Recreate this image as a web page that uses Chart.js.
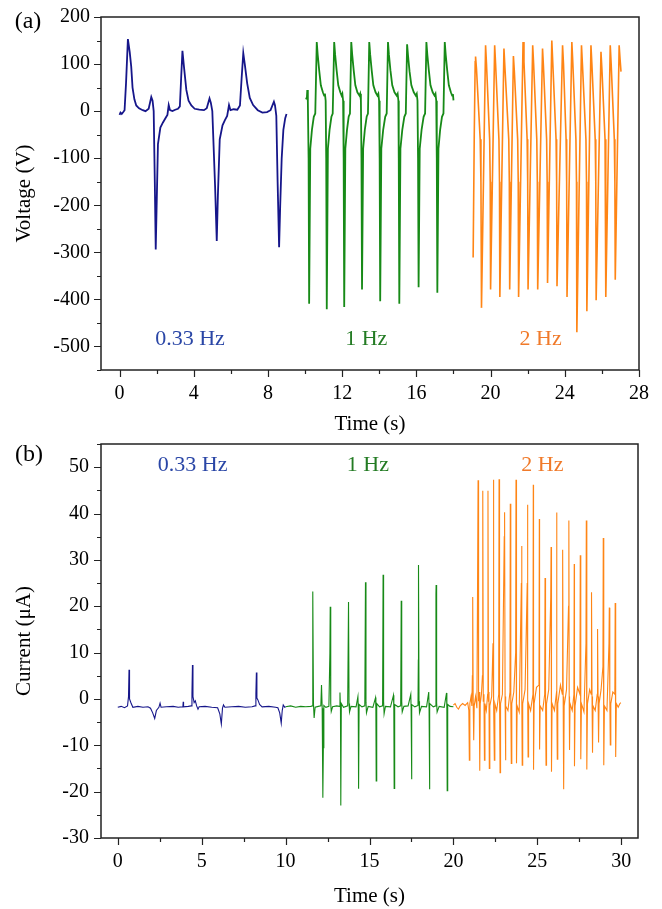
<!DOCTYPE html>
<html>
<head>
<meta charset="utf-8">
<script src="https://cdn.jsdelivr.net/npm/chart.js@4.4.1/dist/chart.umd.min.js"></script>
<style>
    html, body { margin: 0; padding: 0; background: #fff; }
    #wrap { position: relative; width: 662px; height: 909px; overflow: hidden; }
    canvas { position: absolute; left: 0; }
    #chartA { top: 0; }
    #chartB { top: 440px; }
</style>
</head>
<body>
<div id="wrap">
    <canvas id="chartA" width="662" height="440"></canvas>
    <canvas id="chartB" width="662" height="469"></canvas>
</div>
<script>
// ---- (a) voltage ----
const voltBlueT = [0.00,0.05,0.12,0.20,0.27,0.35,0.45,0.55,0.63,0.70,0.80,0.90,1.05,1.25,1.40,1.57,1.71,1.78,1.84,1.90,1.95,2.00,2.07,2.20,2.34,2.52,2.58,2.65,2.72,2.85,3.00,3.15,3.25,3.32,3.39,3.47,3.60,3.72,3.87,4.05,4.30,4.55,4.70,4.85,4.92,5.00,5.15,5.24,5.30,5.40,5.55,5.68,5.80,5.90,5.98,6.15,6.35,6.49,6.58,6.67,6.75,6.88,7.02,7.20,7.45,7.70,7.95,8.14,8.32,8.38,8.45,8.52,8.60,8.66,8.74,8.83,8.93,9.00];
const voltBlueV = [-8,-3,-6,-2,2,60,153,125,94,50,25,12,6,2,0,5,30,22,0,-150,-294,-200,-70,-35,-24,-12,-8,13,2,0,3,5,10,70,128,95,45,22,12,5,3,2,6,27,18,0,-160,-276,-180,-60,-30,-19,-10,13,2,4,3,12,70,123,100,59,28,13,2,-3,-2,2,20,12,-10,-150,-289,-200,-100,-40,-15,-6];

const voltGreenT = [10.05,10.10,10.12,10.15,10.19,10.22,10.28,10.37,10.47,10.55,
    10.63,10.68,10.76,10.85,10.96,11.03,11.07,11.11,11.14,11.17,11.23,11.32,11.42,11.49,
    11.57,11.62,11.70,11.79,11.90,11.97,12.01,12.05,12.08,12.11,12.17,12.26,12.35,12.42,
    12.49,12.54,12.62,12.71,12.82,12.93,12.97,13.01,13.04,13.07,13.13,13.22,13.32,13.39,
    13.46,13.51,13.59,13.68,13.80,13.90,13.95,13.99,14.02,14.05,14.11,14.21,14.32,14.40,
    14.47,14.52,14.60,14.70,14.82,14.94,14.99,15.03,15.05,15.08,15.14,15.24,15.35,15.43,
    15.50,15.55,15.63,15.73,15.86,15.97,16.02,16.06,16.09,16.12,16.18,16.28,16.39,16.47,
    16.54,16.59,16.67,16.76,16.88,16.98,17.03,17.07,17.10,17.13,17.19,17.28,17.38,17.46,
    17.53,17.58,17.66,17.75,17.86,17.93,17.97,18.00];
const voltGreenV = [25,30,45,20,-100,-409,-80,-40,-12,-5,
    147,120,87,55,40,33,37,22,-100,-421,-80,-40,-12,-5,
    147,120,87,55,40,33,37,22,-100,-416,-80,-40,-12,-5,
    147,120,87,55,40,33,37,22,-100,-379,-80,-40,-12,-5,
    147,120,87,55,40,33,37,22,-100,-404,-80,-40,-12,-5,
    147,120,87,55,40,33,37,22,-100,-409,-80,-40,-12,-5,
    142,118,85,55,40,33,37,22,-100,-374,-80,-40,-12,-5,
    147,120,87,55,40,33,37,22,-100,-386,-80,-40,-12,-5,
    147,120,87,55,40,33,36,23];

const voltOrangeT = [19.06,19.12,19.17,19.19,19.24,19.44,19.48,19.51,
    19.73,19.78,19.95,19.98,20.00, 20.22,20.27,20.45,20.48,20.50, 20.72,20.77,20.98,21.01,21.03,
    21.23,21.28,21.46,21.49,21.51, 21.75,21.80,21.97,22.00,22.02, 22.27,22.32,22.49,22.52,22.54,
    22.80,22.85,23.02,23.05,23.07, 23.30,23.35,23.53,23.56,23.58, 23.88,23.93,24.07,24.10,24.12,
    24.38,24.43,24.60,24.63,24.65, 24.90,24.95,25.14,25.17,25.19, 25.41,25.46,25.64,25.67,25.69,
    25.95,26.00,26.17,26.20,26.22, 26.45,26.50,26.67,26.70,26.72, 26.93,26.98,27.03];
const voltOrangeV = [-311,-50,105,116,90,-60,-150,-418,
    140,100,-60,-150,-379, 140,100,-60,-150,-395, 133,95,-60,-150,-379,
    117,85,-60,-150,-395, 147,105,-60,-150,-379, 140,100,-60,-150,-379,
    133,95,-60,-150,-365, 150,105,-60,-150,-372, 140,100,-60,-150,-395,
    147,105,-60,-150,-470, 140,100,-60,-150,-425, 140,100,-60,-150,-402,
    126,90,-60,-150,-395, 140,100,-60,-150,-358, 140,110,84];

const timeTicksA = [0, 4, 8, 12, 16, 20, 24, 28];
const voltTicks = [-500, -400, -300, -200, -100, 0, 100, 200];
const noteTextA = ['0.33 Hz', '1 Hz', '2 Hz'];
const noteTimeA = [3.8, 13.3, 22.7];
const noteVoltA = [-485, -485, -485];

// ---- (b) current ----
const curBlueT = [0.00,0.20,0.40,0.58,0.64,0.67,0.70,0.75,0.80,0.90,1.20,1.50,1.80,1.95,2.08,2.20,2.30,2.45,2.52,2.58,2.90,3.30,3.60,3.88,3.90,3.92,4.20,4.38,4.42,4.45,4.48,4.55,4.62,4.70,4.78,4.85,5.20,5.60,5.95,6.08,6.17,6.24,6.30,6.38,6.80,7.20,7.60,8.00,8.18,8.23,8.26,8.29,8.35,8.45,8.60,9.00,9.40,9.54,9.65,9.74,9.80,9.86,9.95,10.00];
const curBlueV = [-1.8,-1.6,-1.9,-1.5,0.5,6.3,0.0,-0.5,-1.0,-1.8,-1.6,-1.8,-1.7,-2.0,-3.0,-4.2,-2.5,-1.8,-0.9,-1.8,-1.7,-1.6,-1.8,-1.7,-0.6,-1.7,-1.6,-1.5,1.0,7.3,0.5,-0.8,-0.4,-1.5,-2.2,-1.7,-1.6,-1.8,-1.9,-3.2,-5.4,-2.0,-1.3,-1.8,-1.7,-1.6,-1.8,-1.7,-1.5,1.0,5.7,0.2,-0.2,-1.2,-1.7,-1.6,-1.8,-1.9,-3.0,-5.2,-2.5,-1.3,-1.8,-1.7];

const curGreenT = [10.00,10.30,10.60,10.90,11.20,11.50,11.60,11.61,11.63,11.66,11.70,11.76,11.95,
    12.10,12.14,12.18,12.22,12.25,12.28,12.40,12.58,12.64,12.66,12.69,12.72,12.80,13.05,
    13.20,13.24,13.27,13.29,13.32,13.45,13.70,13.75,13.78,13.81,13.90,14.20,
    14.31,14.33,14.35,14.38,14.55,14.72,14.76,14.79,14.82,14.92,15.20,
    15.36,15.38,15.40,15.43,15.60,15.78,15.81,15.84,15.87,15.95,16.25,
    16.43,16.45,16.47,16.50,16.70,16.86,16.89,16.92,16.95,17.05,17.30,
    17.46,17.48,17.50,17.53,17.70,17.89,17.91,17.92,17.95,17.98,18.10,18.40,
    18.53,18.55,18.57,18.60,18.80,18.94,18.96,18.97,19.00,19.03,19.15,19.45,
    19.59,19.61,19.63,19.66,19.80,20.00];
const curGreenV = [-1.7,-1.5,-1.8,-1.6,-1.7,-1.6,-1.5,14.5,23.2,-1.0,-4.1,-1.8,-1.6,
    -1.5,3.0,-2.0,-21.3,-10.5,-1.4,-1.8,-1.6,9.9,19.9,-1.0,-2.7,-1.7,-1.5,
    -1.6,1.4,-2.0,-23.0,-1.0,-1.8,-1.5,20.9,-1.0,-2.8,-1.6,-1.7,
    0.5,-2.0,-19.4,-1.2,-1.7,-1.5,25.2,-0.8,-3.0,-1.6,-1.8,
    0.3,-2.0,-17.7,-1.0,-1.7,-1.5,26.8,-0.5,-3.2,-1.6,-1.7,
    0.8,-2.0,-19.3,-1.2,-1.7,-1.5,21.2,-0.5,-2.8,-1.6,-1.5,
    1.0,-2.0,-17.3,-1.2,-1.7,-1.4,8.4,28.9,-0.5,-3.0,-1.6,-1.7,
    1.5,-2.0,-19.5,-1.0,-1.7,-1.5,22.7,24.6,-0.8,-2.8,-1.6,-1.8,
    1.3,-2.0,-19.8,-1.2,-1.6,-1.7];

const curOrangeT = [20.00,20.10,20.20,20.30,20.40,20.55,20.70,20.85,20.92,20.95,20.98,21.05,21.10,21.13,21.15,21.18,21.21,21.24,21.32,
    21.40,21.45,21.47,21.50,21.54,21.57,21.60,21.67,21.73,21.75,21.78,21.82,21.85,21.88,21.96,
    22.04,22.06,22.09,22.12,22.14,22.17,22.28,22.36,22.38,22.41,22.44,22.47,22.58,
    22.70,22.72,22.75,22.78,22.81,22.92,23.03,23.05,23.08,23.10,23.13,23.25,
    23.37,23.39,23.42,23.45,23.48,23.60,23.71,23.73,23.75,23.77,23.80,23.92,
    24.05,24.07,24.08,24.10,24.13,24.27,24.40,24.42,24.43,24.45,24.48,24.60,
    24.74,24.76,24.77,24.78,24.81,24.95,25.10,25.12,25.13,25.14,25.17,25.32,
    25.44,25.46,25.49,25.52,25.55,25.68,25.80,25.82,25.84,25.85,25.88,26.02,
    26.13,26.15,26.17,26.19,26.22,26.38,26.49,26.51,26.54,26.57,26.60,26.74,
    26.86,26.88,26.90,26.92,26.95,27.08,27.18,27.20,27.21,27.22,27.25,27.40,
    27.54,27.56,27.58,27.60,27.63,27.78,27.90,27.92,27.94,27.96,27.99,28.12,
    28.21,28.23,28.26,28.29,28.32,28.45,28.57,28.59,28.62,28.65,28.68,28.80,
    28.91,28.93,28.95,28.97,29.00,29.15,29.27,29.29,29.32,29.35,29.38,29.50,
    29.62,29.64,29.66,29.68,29.71,29.82,29.92,29.98];
const curOrangeV = [-1.3,-1.0,-1.8,-2.2,-1.5,-1.0,-1.4,-0.8,-2.5,-13.2,-1.0,0.5,-1.5,5.0,22.0,-1.0,-8.9,-1.5,0.5,
    -2.0,32.0,47.2,-0.5,1.5,-15.5,-1.0,1.0,5.0,44.9,-0.5,1.0,-13.2,-1.0,-2.5,
    1.0,44.9,-0.5,1.5,-15.0,-1.5,0.5,12.0,47.3,-0.5,-13.2,-1.0,-2.5,
    1.0,47.4,0.0,-15.9,-1.0,1.0,35.0,40.3,0.5,-13.2,-1.5,-2.5,
    1.5,42.1,-0.5,-13.9,-1.0,1.5,10.0,47.3,0.5,-13.9,-1.5,-2.8,
    25.0,33.0,0.5,-14.3,-1.0,2.0,25.0,41.9,0.5,-12.5,-1.0,-2.5,
    1.0,46.2,0.5,-15.3,-1.0,2.5,3.0,38.8,1.0,-10.9,-1.5,-2.5,
    1.0,26.1,0.5,-14.3,-1.0,2.0,22.0,32.8,0.5,-15.7,-1.0,-2.5,
    1.0,40.2,0.5,-13.0,-1.0,3.0,1.0,32.2,0.5,-19.5,-1.5,2.0,
    20.0,38.5,0.5,-11.0,-1.0,-2.5,1.0,29.1,0.5,-14.5,-1.5,2.5,
    1.0,31.0,0.5,-13.0,-1.0,-2.8,12.0,38.5,0.5,-15.2,-1.0,2.0,
    1.0,23.0,0.5,-11.6,-1.5,-2.5,1.0,15.1,0.5,-9.4,-1.0,2.0,
    7.0,34.7,0.5,-14.3,-1.5,-2.5,12.0,19.7,0.5,-9.9,-1.0,1.5,
    1.0,20.7,0.5,-12.5,-1.0,-1.8,-1.0,-0.8];

const timeTicksB = [0, 5, 10, 15, 20, 25, 30];
const curTicks = [-30, -20, -10, 0, 10, 20, 30, 40, 50];
const noteTextB = ['0.33 Hz', '1 Hz', '2 Hz'];
const noteTimeB = [4.46, 14.9, 25.3];
const noteCurB = [50.5, 50.5, 50.5];

const lineColors = ['#16168a', '#178a17', '#ff8515'];
const noteColors = ['#2a46a6', '#237b23', '#f07a2a'];
const SERIF = '"Liberation Serif", "Times New Roman", serif';

Chart.defaults.font.family = SERIF;
Chart.defaults.color = '#000';

function toPoints(ts, vs) {
    return ts.map((t, i) => ({ x: t, y: vs[i] }));
}

// box, outward major/minor ticks, frequency notes and panel letter
const framePlugin = {
    id: 'frame',
    afterDatasetsDraw(chart, args, opts) {
        const { ctx, chartArea: a, scales: { x, y } } = chart;
        ctx.save();
        ctx.strokeStyle = '#222';
        ctx.lineWidth = 1.5;
        ctx.strokeRect(a.left, a.top, a.right - a.left, a.bottom - a.top);

        ctx.lineWidth = 1.2;
        ctx.beginPath();
        const isMajor = (list, v) => list.some(m => Math.abs(m - v) < 1e-6);
        for (let v = opts.xFrom; v <= x.max + 1e-6; v += opts.xMinor) {
            const px = Math.round(x.getPixelForValue(v)) + 0.5;
            ctx.moveTo(px, a.bottom);
            ctx.lineTo(px, a.bottom + (isMajor(opts.xMajor, v) ? 7 : 4));
        }
        for (let v = opts.yFrom; v <= y.max + 1e-6; v += opts.yMinor) {
            const py = Math.round(y.getPixelForValue(v)) + 0.5;
            ctx.moveTo(a.left, py);
            ctx.lineTo(a.left - (isMajor(opts.yMajor, v) ? 7 : 4), py);
        }
        ctx.stroke();

        ctx.textAlign = 'center';
        ctx.textBaseline = 'middle';
        ctx.font = '22px ' + SERIF;
        opts.notes.forEach((txt, i) => {
            ctx.fillStyle = noteColors[i];
            ctx.fillText(txt, x.getPixelForValue(opts.noteX[i]), y.getPixelForValue(opts.noteY[i]));
        });

        ctx.fillStyle = '#000';
        ctx.font = '24px ' + SERIF;
        ctx.fillText(opts.letter, opts.letterPos[0], opts.letterPos[1]);
        ctx.restore();
    }
};

function makeDataset(ts, vs, color, width) {
    return {
        data: toPoints(ts, vs),
        borderColor: color,
        borderWidth: width,
        pointRadius: 0,
        tension: 0,
        fill: false
    };
}

function axisX(min, max, majors, height, titlePad) {
    return {
        type: 'linear', min: min, max: max,
        afterBuildTicks: ax => { ax.ticks = majors.map(v => ({ value: v })); },
        afterFit: ax => { ax.height = height; ax.paddingLeft = 0; ax.paddingRight = 0; },
        grid: { display: false, drawTicks: false },
        border: { display: false },
        ticks: { font: { size: 20 }, color: '#000', padding: 12, maxRotation: 0, autoSkip: false },
        title: { display: true, text: 'Time (s)', font: { size: 21 }, color: '#000', padding: { top: 0, bottom: titlePad } }
    };
}

function axisY(min, max, majors, title, tickPad) {
    return {
        type: 'linear', min: min, max: max,
        afterBuildTicks: ax => { ax.ticks = majors.map(v => ({ value: v })); },
        afterFit: ax => { ax.width = 101; ax.paddingTop = 0; ax.paddingBottom = 0; },
        grid: { display: false, drawTicks: false },
        border: { display: false },
        ticks: { font: { size: 20 }, color: '#000', padding: tickPad, autoSkip: false },
        title: { display: true, text: title, font: { size: 21 }, color: '#000', padding: { top: 12, bottom: 0 } }
    };
}

new Chart(document.getElementById('chartA'), {
    type: 'line',
    data: {
        datasets: [
            makeDataset(voltBlueT, voltBlueV, lineColors[0], 1.8),
            makeDataset(voltGreenT, voltGreenV, lineColors[1], 1.8),
            makeDataset(voltOrangeT, voltOrangeV, lineColors[2], 1.6)
        ]
    },
    options: {
        responsive: false,
        animation: false,
        layout: { padding: { left: 0, right: 23, top: 17, bottom: 0 } },
        scales: {
            x: axisX(-1, 28, timeTicksA, 70, 3),
            y: axisY(-550, 200, voltTicks, 'Voltage (V)', 11)
        },
        plugins: {
            legend: { display: false },
            tooltip: { enabled: false },
            frame: {
                xFrom: 0, xMinor: 2, xMajor: timeTicksA,
                yFrom: -550, yMinor: 50, yMajor: voltTicks,
                notes: noteTextA, noteX: noteTimeA, noteY: noteVoltA,
                letter: '(a)', letterPos: [28, 22]
            }
        }
    },
    plugins: [framePlugin]
});

new Chart(document.getElementById('chartB'), {
    type: 'line',
    data: {
        datasets: [
            makeDataset(curBlueT, curBlueV, lineColors[0], 1.1),
            makeDataset(curGreenT, curGreenV, lineColors[1], 1.1),
            makeDataset(curOrangeT, curOrangeV, lineColors[2], 1.1)
        ]
    },
    options: {
        responsive: false,
        animation: false,
        layout: { padding: { left: 0, right: 24, top: 4, bottom: 0 } },
        scales: {
            x: axisX(-1, 31, timeTicksB, 71, 0),
            y: axisY(-30, 55, curTicks, 'Current (\u03bcA)', 12)
        },
        plugins: {
            legend: { display: false },
            tooltip: { enabled: false },
            frame: {
                xFrom: 0, xMinor: 2.5, xMajor: timeTicksB,
                yFrom: -30, yMinor: 5, yMajor: curTicks,
                notes: noteTextB, noteX: noteTimeB, noteY: noteCurB,
                letter: '(b)', letterPos: [29, 15]
            }
        }
    },
    plugins: [framePlugin]
});
</script>
</body>
</html>
